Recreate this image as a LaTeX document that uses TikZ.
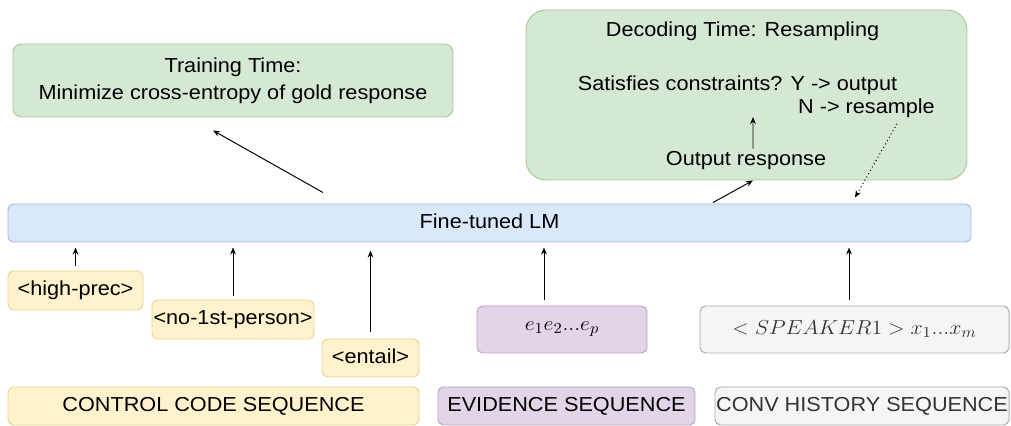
\documentclass[tikz,border=0pt]{standalone}
\usepackage{amsmath}
\usepackage{fontspec}
\setmainfont{Liberation Sans}[FakeStretch=1.07]
\usetikzlibrary{arrows.meta}

\definecolor{goalfill}{HTML}{D5E8D4}
\definecolor{goaldraw}{HTML}{82B366}
\definecolor{lmfill}{HTML}{DAE8FC}
\definecolor{lmdraw}{HTML}{6C8EBF}
\definecolor{codefill}{HTML}{FFF2CC}
\definecolor{codedraw}{HTML}{D6B656}
\definecolor{evfill}{HTML}{E1D5E7}
\definecolor{evdraw}{HTML}{9673A6}
\definecolor{histfill}{HTML}{F5F5F5}
\definecolor{histdraw}{HTML}{666666}
\definecolor{histtext}{HTML}{333333}

\newcommand{\widemath}[1]{\scalebox{1.07}[1]{#1}}

\begin{document}
\begin{tikzpicture}
[
  box/.style={draw, rounded corners=4pt, line width=0.7pt, inner sep=0pt,
    text height=0.72em, text depth=0pt, font=\fontsize{14.4}{19}\selectfont},
  goal/.style={box, fill=goalfill, draw=goaldraw!55!goalfill},
  model/.style={box, fill=lmfill, draw=lmdraw!50!lmfill},
  code/.style={box, fill=codefill, draw=codedraw!50!codefill},
  evid/.style={box, fill=evfill, draw=evdraw!50!evfill},
  hist/.style={box, fill=histfill, draw=histdraw!50!histfill, text=histtext},
  txt/.style={anchor=base, inner sep=0pt, font=\fontsize{14.4}{19}\selectfont},
  up/.style={-{Stealth[length=5pt,width=4pt]}, line width=0.7pt}
]
\useasboundingbox (0,0) rectangle (25.275,10.65);

% objectives
\node[goal, minimum width=11cm, minimum height=1.825cm, rounded corners=6pt,
  align=center, text height={}, text depth={}] (train) at (5.825,8.6375)
  {Training Time:\\Minimize cross-entropy of gold response};
\node[goal, minimum width=11.025cm, minimum height=4.25cm, rounded corners=0.5cm]
  (decode) at (18.6625,8.275) {};
\node[txt] (title) at (18.5625,9.725) {Decoding Time: Resampling};
\node[txt] (sat) at (18.4375,8.375) {Satisfies constraints? Y -> output};
\node[txt] (res) at (21.6625,7.8) {N -> resample};
\node[txt] (out) at (18.65,6.5) {Output response};
\coordinate (chk) at (18.825,7.725);

% model
\node[model, minimum width=24.075cm, minimum height=0.95cm] (lm) at (12.2375,5.075) {Fine-tuned LM};

% inputs
\node[code, minimum width=3.375cm, minimum height=0.975cm] (high) at (1.8875,3.3875) {<high-prec>};
\node[code, minimum width=4.05cm, minimum height=0.975cm] (noper) at (5.825,2.6625) {<no-1st-person>};
\node[code, minimum width=2.425cm, minimum height=0.95cm] (entail) at (9.2625,1.7) {<entail>};
\node[evid, minimum width=4.25cm, minimum height=1.175cm, text height={}, text depth={}, font=\fontsize{15.5}{18}\selectfont]
  (ev) at (14.05,2.4125) {\widemath{$e_1e_2{.}{.}{.}e_p$}};
\node[hist, minimum width=7.725cm, minimum height=1.175cm, text height={}, text depth={}, font=\fontsize{15}{18}\selectfont]
  (hist) at (21.3625,2.4125) {\widemath{$<SPEAKER1>x_1{.}{.}{.}x_m$}};

% legend
\node[code, minimum width=10.275cm, minimum height=0.95cm] (ctrlseq) at (5.3375,0.5) {CONTROL CODE SEQUENCE};
\node[evid, minimum width=6.425cm, minimum height=0.95cm] (evseq) at (14.1625,0.5) {EVIDENCE SEQUENCE};
\node[hist, minimum width=7.35cm, minimum height=0.95cm] (histseq) at (21.55,0.5) {CONV HISTORY SEQUENCE};

\draw[up, shorten <=0.125cm, shorten >=0.125cm] (high.north) -- (high.north |- lm.south);
\draw[up, shorten <=0.1cm, shorten >=0.125cm] (noper.north) -- (noper.north |- lm.south);
\draw[up, shorten <=0.175cm, shorten >=0.2cm] (entail.north) -- (entail.north |- lm.south);
\draw[up, shorten <=0.15cm, shorten >=0.125cm] ([xshift=-0.45cm]ev.north) -- ([xshift=-0.45cm]ev.north |- lm.south);
\draw[up, shorten <=0.15cm, shorten >=0.125cm] ([xshift=-0.1375cm]hist.north) -- ([xshift=-0.1375cm]hist.north |- lm.south);

\draw[up] ([shift={(-4.1625,0.275)}]lm.north) -- ([shift={(-0.5,-0.325)}]train.south);
\draw[up] ([shift={(5.5875,0.025)}]lm.north) -- ([xshift=0.1625cm]decode.south);
\draw[up, shorten <=0.075cm] ([xshift=0.175cm]out.north) -- (chk);
\draw[up, dotted, shorten <=0.15cm] ([xshift=0.8375cm]res.south) -- ([shift={(9.1375,0.15)}]lm.north);

\end{tikzpicture}
\end{document}
